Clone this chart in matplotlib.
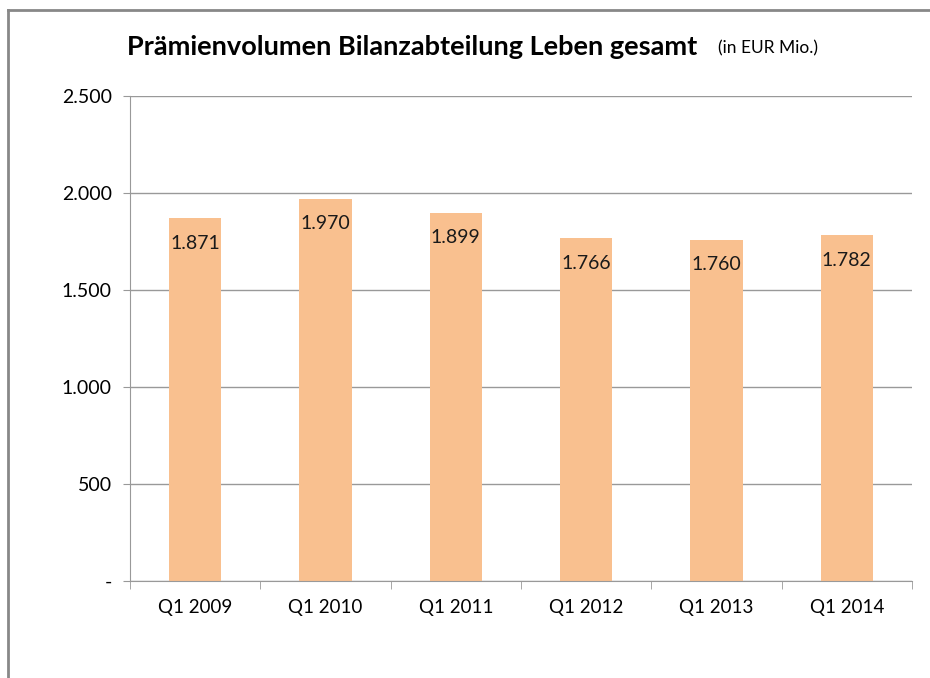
import matplotlib.pyplot as plt
from matplotlib.lines import Line2D

quarters = ['Q1 2009', 'Q1 2010', 'Q1 2011', 'Q1 2012', 'Q1 2013', 'Q1 2014']
premiums = [1871, 1970, 1899, 1766, 1760, 1782]
yticks = [0, 500, 1000, 1500, 2000, 2500]
ytick_labels = ['-', '500', '1.000', '1.500', '2.000', '2.500']

plt.rcParams['font.family'] = ['Lato', 'DejaVu Sans']

fig = plt.figure(figsize=(9.3, 6.78), dpi=100)
ax = fig.add_axes([130 / 930, 1 - 581 / 678, 782 / 930, 485 / 678])

x = range(len(quarters))
bars = ax.bar(x, premiums, width=0.4, color='#F9C08F', zorder=2)

for b, v in zip(bars, premiums):
    ax.annotate(f'{v / 1000:.3f}', (b.get_x() + b.get_width() / 2, v),
                xytext=(0, -18), textcoords='offset points',
                ha='center', va='center', fontsize=14, color='#1a1a1a')

ax.set_xlim(-0.5, len(quarters) - 0.5)
ax.set_ylim(0, 2500)
ax.set_yticks(yticks)
ax.set_yticklabels(ytick_labels, fontsize=14)
ax.set_xticks(list(x))
ax.set_xticklabels(quarters, fontsize=13.5)
ax.set_xticks([i - 0.5 for i in range(len(quarters) + 1)], minor=True)

ax.grid(axis='y', color='#999999', linewidth=1, zorder=0)
for s in ['top', 'right']:
    ax.spines[s].set_visible(False)
for s in ['left', 'bottom']:
    ax.spines[s].set_color('#999999')
ax.tick_params(axis='y', length=5, color='#999999', pad=8)
ax.tick_params(axis='x', which='major', length=0, pad=13)
ax.tick_params(axis='x', which='minor', length=6, color='#999999')

fig.text(127 / 930, 1 - 47 / 678, 'Prämienvolumen Bilanzabteilung Leben gesamt',
         fontsize=19.5, fontweight='bold', va='center', ha='left')
fig.text(718 / 930, 1 - 48 / 678, '(in EUR Mio.)', fontsize=12.5,
         va='center', ha='left')

# outer frame like the spreadsheet chart box
fig.add_artist(Line2D([8 / 930, 8 / 930], [0, 1 - 10 / 678],
                      transform=fig.transFigure, color='#888888', linewidth=2))
fig.add_artist(Line2D([8 / 930, 1], [1 - 10 / 678, 1 - 10 / 678],
                      transform=fig.transFigure, color='#888888', linewidth=2))

fig.savefig('out.png', dpi=100)
